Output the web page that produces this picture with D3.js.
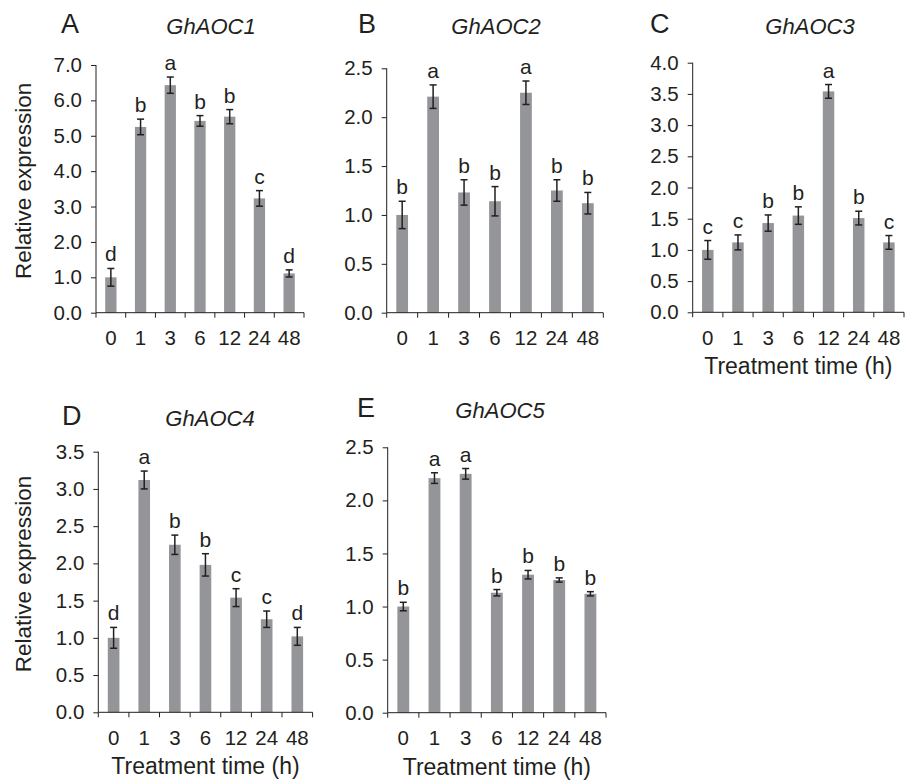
<!DOCTYPE html>
<html lang="en">
<head>
<meta charset="UTF-8">
<script src="https://d3js.org/d3.v7.min.js"></script>
<title>GhAOC expression</title>
<style>
  body { margin: 0; background: #fff; }
  svg { display: block; font-family: "Liberation Sans", Arial, sans-serif; }
</style>
</head>
<body>
<svg width="905" height="782"></svg>
<script>
// treatment times (h)
const times = ["0", "1", "3", "6", "12", "24", "48"];
const genes = ["GhAOC1", "GhAOC2", "GhAOC3", "GhAOC4", "GhAOC5"];
const letters = ["A", "B", "C", "D", "E"];

// relative expression, error bar and significance letters
const aoc1Mean = [1.0, 5.25, 6.43, 5.42, 5.54, 3.23, 1.11];
const aoc1Err  = [0.25, 0.22, 0.23, 0.15, 0.2, 0.22, 0.1];
const aoc1Sig  = ["d", "b", "a", "b", "b", "c", "d"];

const aoc2Mean = [1.0, 2.21, 1.23, 1.14, 2.25, 1.25, 1.12];
const aoc2Err  = [0.14, 0.12, 0.13, 0.15, 0.12, 0.11, 0.11];
const aoc2Sig  = ["b", "a", "b", "b", "a", "b", "b"];

const aoc3Mean = [1.0, 1.12, 1.43, 1.55, 3.54, 1.51, 1.12];
const aoc3Err  = [0.15, 0.12, 0.13, 0.14, 0.11, 0.11, 0.11];
const aoc3Sig  = ["c", "c", "b", "b", "a", "b", "c"];

const aoc4Mean = [1.0, 3.12, 2.25, 1.98, 1.54, 1.25, 1.02];
const aoc4Err  = [0.14, 0.12, 0.13, 0.15, 0.12, 0.11, 0.12];
const aoc4Sig  = ["d", "a", "b", "b", "c", "c", "d"];

const aoc5Mean = [1.0, 2.21, 2.25, 1.13, 1.30, 1.25, 1.12];
const aoc5Err  = [0.04, 0.05, 0.05, 0.03, 0.04, 0.02, 0.02];
const aoc5Sig  = ["b", "a", "a", "b", "b", "b", "b"];

const yMax  = [7, 2.5, 4, 3.5, 2.5];
const yStep = [1, 0.5, 0.5, 0.5, 0.5];

const means = [aoc1Mean, aoc2Mean, aoc3Mean, aoc4Mean, aoc5Mean];
const errs  = [aoc1Err, aoc2Err, aoc3Err, aoc4Err, aoc5Err];
const sigs  = [aoc1Sig, aoc2Sig, aoc3Sig, aoc4Sig, aoc5Sig];

// where each panel sits on the page
const layout = [
  {x0: 96,    x1: 304,   top: 65,    base: 312.7, letterX: 61,  titleX: 211, headY: 33,  ylab: true,  xlab: false},
  {x0: 386.7, x1: 603.3, top: 68.3,  base: 312.7, letterX: 358, titleX: 496, headY: 33,  ylab: false, xlab: false},
  {x0: 692.7, x1: 904,   top: 62.7,  base: 312.3, letterX: 650, titleX: 810, headY: 33,  ylab: false, xlab: true},
  {x0: 98.3,  x1: 312.6, top: 451.7, base: 712.3, letterX: 62,  titleX: 210, headY: 425, ylab: true,  xlab: true},
  {x0: 387.7, x1: 606,   top: 447.3, base: 712.7, letterX: 357, titleX: 500, headY: 417, ylab: false, xlab: true}
];

const ink = "#231f20";
const barColor = "#939598";
const svg = d3.select("svg");

layout.forEach(function(p, k) {
  const rows = times.map(function(t, i) {
    return {t: t, v: means[k][i], e: errs[k][i], s: sigs[k][i]};
  });

  const xs = d3.scaleBand().domain(times).range([p.x0, p.x1])
    .paddingInner(0.62).paddingOuter(0.31);
  const ys = d3.scaleLinear().domain([0, yMax[k]]).range([p.base, p.top]);
  const g = svg.append("g");

  // bars
  g.selectAll("rect").data(rows).enter().append("rect")
    .attr("x", d => xs(d.t))
    .attr("width", xs.bandwidth())
    .attr("y", d => ys(d.v))
    .attr("height", d => ys(0) - ys(d.v))
    .attr("fill", barColor);

  // error bars
  const eb = g.selectAll(".eb").data(rows).enter().append("g").attr("class", "eb")
    .attr("stroke", ink).attr("stroke-width", 1.5);
  const cx = d => xs(d.t) + xs.bandwidth() / 2;
  eb.append("line").attr("x1", cx).attr("x2", cx)
    .attr("y1", d => ys(d.v + d.e)).attr("y2", d => ys(d.v - d.e));
  eb.append("line").attr("x1", d => cx(d) - 3.5).attr("x2", d => cx(d) + 3.5)
    .attr("y1", d => ys(d.v + d.e)).attr("y2", d => ys(d.v + d.e));
  eb.append("line").attr("x1", d => cx(d) - 3.5).attr("x2", d => cx(d) + 3.5)
    .attr("y1", d => ys(d.v - d.e)).attr("y2", d => ys(d.v - d.e));

  // significance letters
  g.selectAll(".sig").data(rows).enter().append("text")
    .attr("x", cx)
    .attr("y", d => ys(d.v + d.e) - 7)
    .attr("text-anchor", "middle")
    .attr("font-size", 21)
    .attr("fill", ink)
    .text(d => d.s);

  // y axis
  const yTicks = d3.range(0, yMax[k] + 1e-9, yStep[k]);
  const ya = g.append("g").attr("transform", "translate(" + p.x0 + ",0)")
    .call(d3.axisLeft(ys).tickValues(yTicks).tickFormat(d3.format(".1f")).tickSize(5).tickPadding(9));
  ya.select(".domain").attr("d", "M0," + p.top + "V" + p.base);

  // x axis: ticks between the bars, labels under them
  const step = xs.step();
  const xa = g.append("g").attr("transform", "translate(0," + p.base + ")");
  xa.append("line").attr("x1", p.x0).attr("x2", p.x1).attr("stroke", ink);
  xa.selectAll(".xt").data(d3.range(times.length + 1)).enter().append("line")
    .attr("x1", i => p.x0 + i * step).attr("x2", i => p.x0 + i * step)
    .attr("y1", 0).attr("y2", 5).attr("stroke", ink);
  xa.selectAll(".xl").data(times).enter().append("text")
    .attr("x", t => xs(t) + xs.bandwidth() / 2)
    .attr("y", 32.5)
    .attr("text-anchor", "middle")
    .attr("font-size", 20.5)
    .attr("fill", ink)
    .text(t => t);

  ya.selectAll("line, path").attr("stroke", ink);
  ya.selectAll("text").attr("font-size", 20.5).attr("fill", ink)
    .attr("font-family", "Liberation Sans, Arial, sans-serif");

  // panel letter and gene title
  g.append("text").attr("x", p.letterX).attr("y", p.headY)
    .attr("font-size", 27).attr("fill", ink).text(letters[k]);
  g.append("text").attr("x", p.titleX).attr("y", p.headY + 1)
    .attr("text-anchor", "middle").attr("font-size", 22)
    .attr("font-style", "italic").attr("fill", ink).text(genes[k]);

  if (p.ylab) {
    g.append("text")
      .attr("transform", "translate(31," + ((p.top + p.base) / 2 - 8) + ") rotate(-90)")
      .attr("text-anchor", "middle").attr("font-size", 22.5).attr("fill", ink)
      .text("Relative expression");
  }
  if (p.xlab) {
    g.append("text")
      .attr("x", (p.x0 + p.x1) / 2).attr("y", p.base + 62)
      .attr("text-anchor", "middle").attr("font-size", 23).attr("fill", ink)
      .text("Treatment time (h)");
  }
});
</script>
</body>
</html>
